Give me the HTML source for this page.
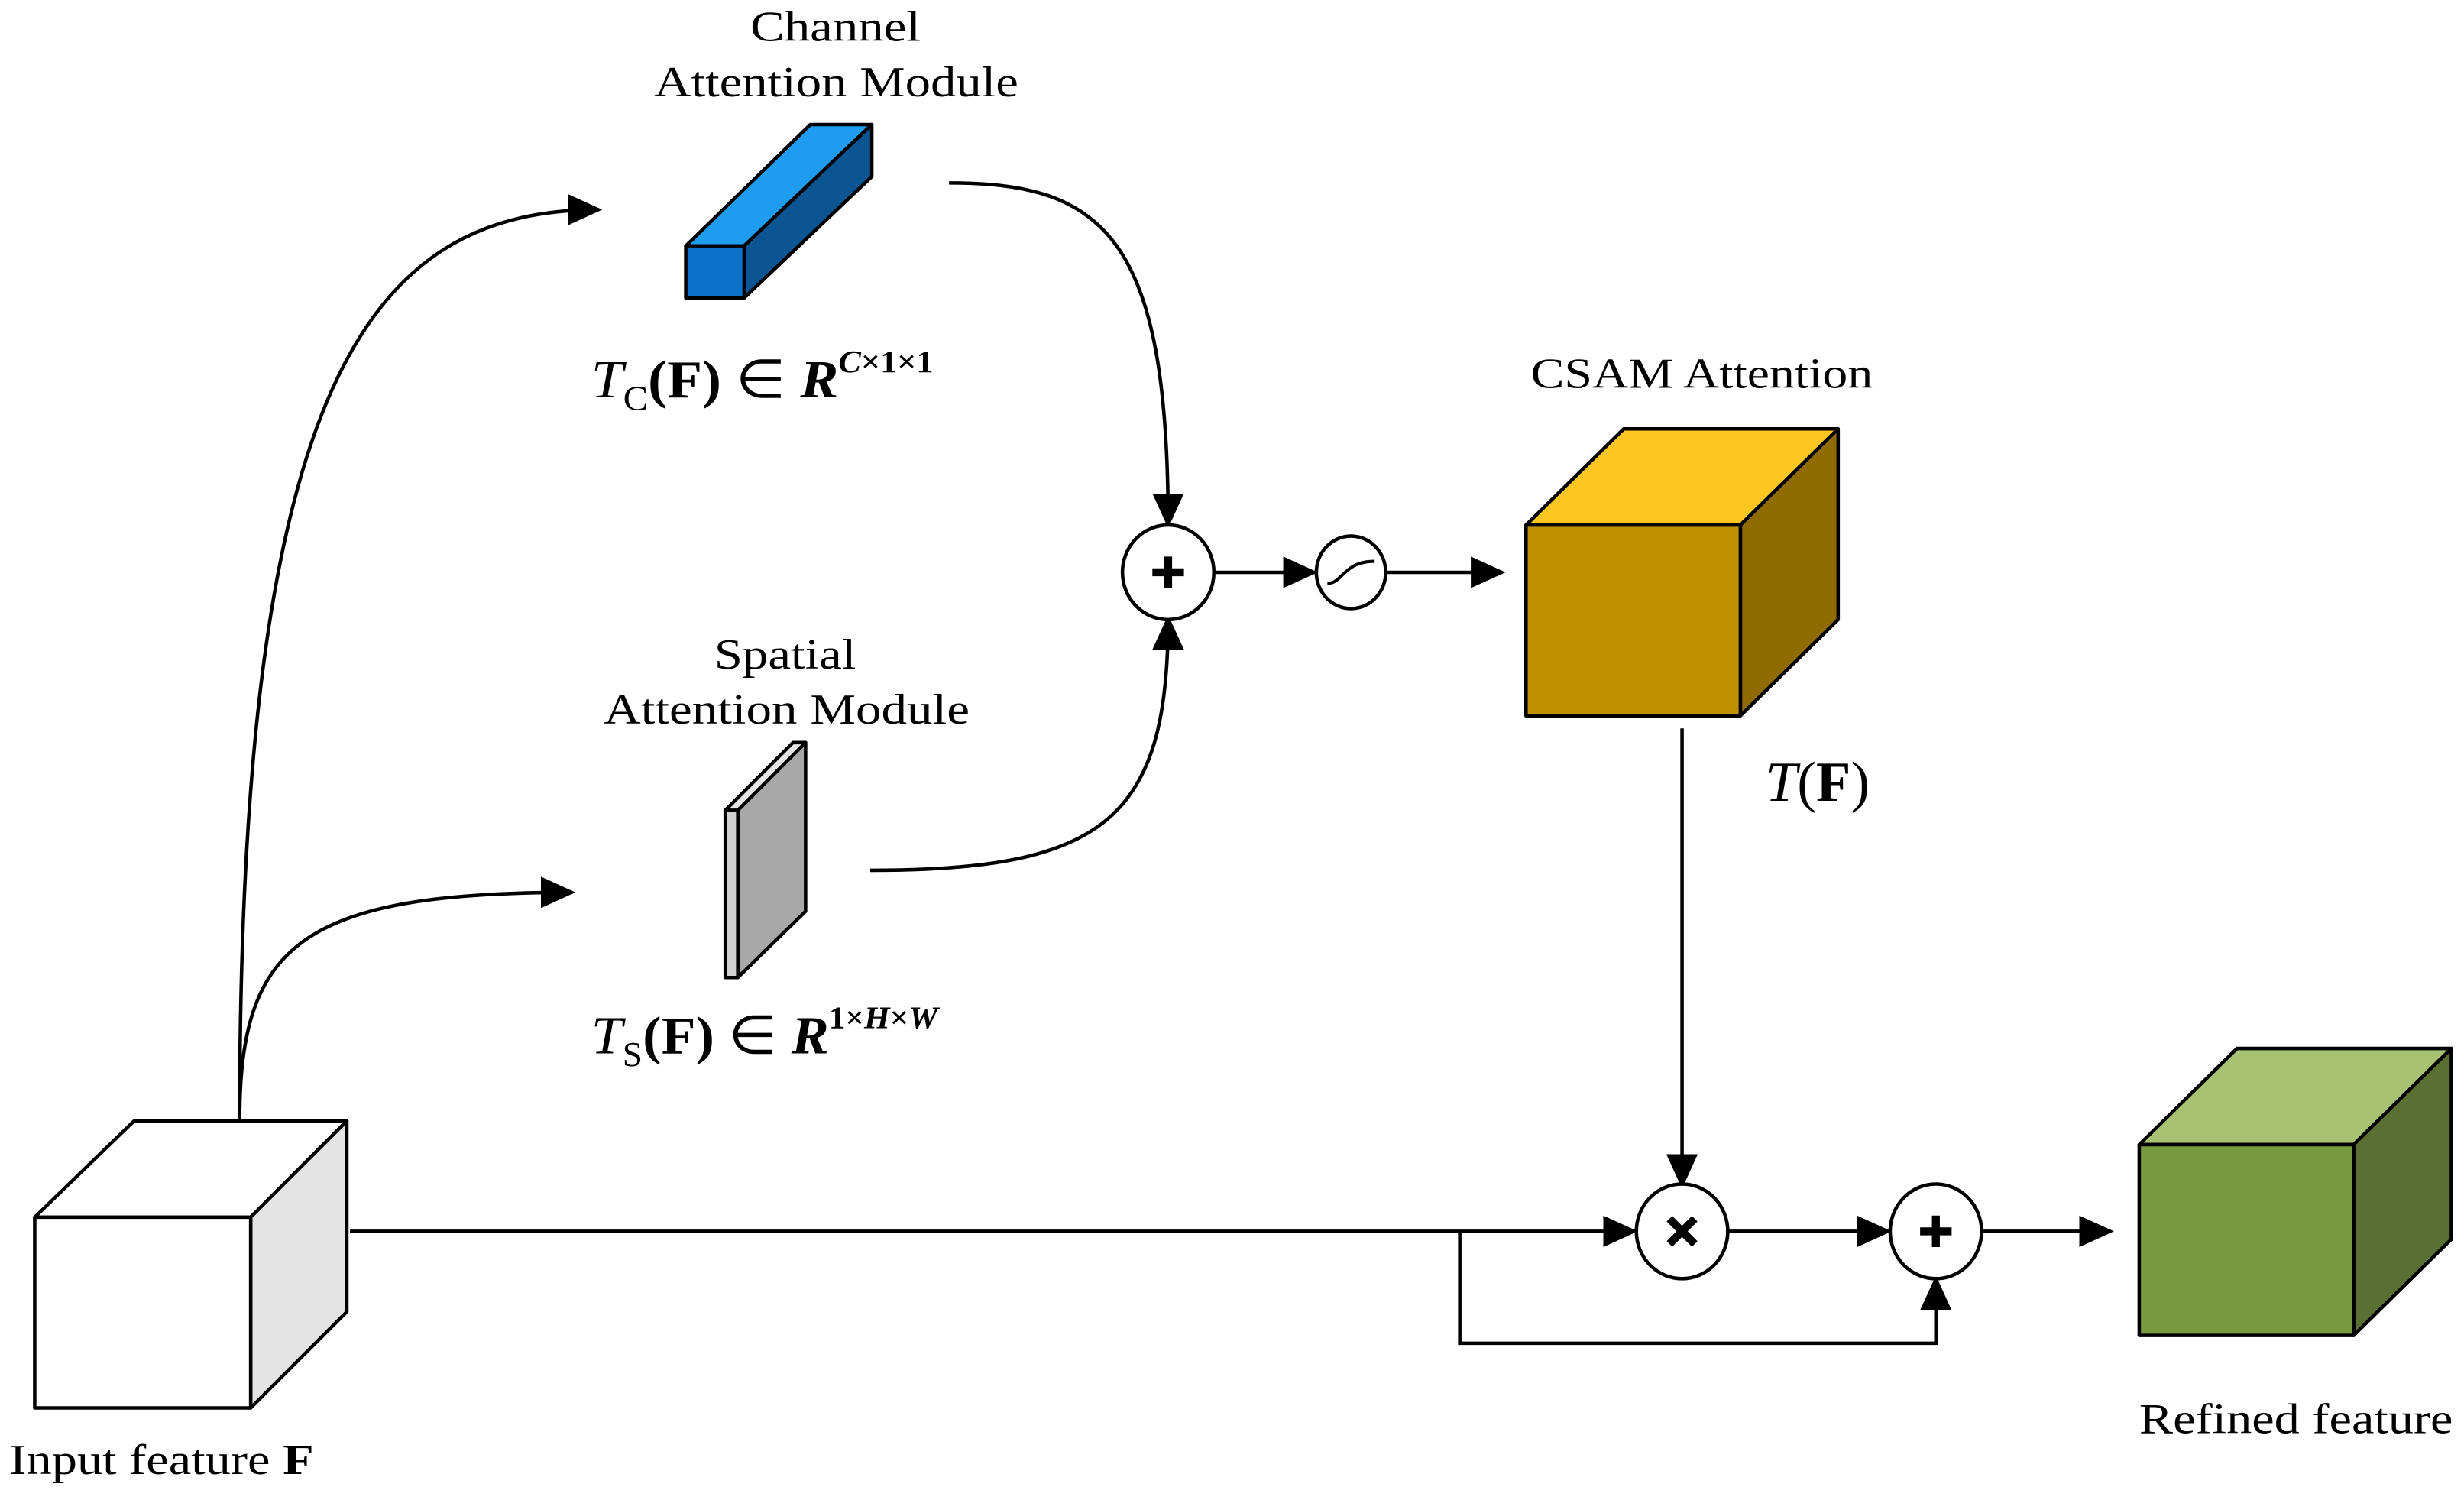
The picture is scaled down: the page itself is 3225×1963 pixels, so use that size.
<!DOCTYPE html>
<html><head><meta charset="utf-8"><style>html,body{margin:0;padding:0;background:#fff}svg{display:block}</style></head>
<body>
<svg width="3225" height="1963" viewBox="0 0 1563 951.4" xmlns="http://www.w3.org/2000/svg" font-family="'Liberation Serif', serif">
<defs><marker id="b" markerWidth="22" markerHeight="20" refX="20" refY="10" orient="auto" markerUnits="userSpaceOnUse" viewBox="0 0 22 20"><path d="M0,0 L22,10 L0,20 z" fill="#000"/></marker></defs>
<g fill="none" stroke="#000" stroke-width="2.2">
<path d="M152,711 C152,250 230,133 380,133" marker-end="url(#b)"/>
<path d="M152,711 C152,600 190,566 363,566" marker-end="url(#b)"/>
<path d="M602,116 C700,116 741,150 741,333" marker-end="url(#b)"/>
<path d="M552,552 C700,552 741,520 741,392" marker-end="url(#b)"/>
<path d="M771,363 L834,363" marker-end="url(#b)"/>
<path d="M879,363 L953,363" marker-end="url(#b)"/>
<path d="M1067,462 L1067,752" marker-end="url(#b)"/>
<path d="M222,781 L1037,781" marker-end="url(#b)"/>
<path d="M926,781 L926,852 L1228,852 L1228,811" marker-end="url(#b)"/>
<path d="M1097,781 L1198,781" marker-end="url(#b)"/>
<path d="M1258,781 L1339,781" marker-end="url(#b)"/>
</g>
<g stroke="#000" stroke-width="2.2" stroke-linejoin="round">
<polygon points="435,156 514,79 553,79 472,156" fill="#1e9cf0"/>
<polygon points="472,156 553,79 553,112 472,189" fill="#0a5592"/>
<rect x="435" y="156" width="37" height="33" fill="#0a72c8"/>
<polygon points="460,514 503,471 511,471 468,514" fill="#e6e6e6"/>
<polygon points="468,514 511,471 511,578 468,620" fill="#a8a8a8"/>
<rect x="460" y="514" width="8" height="106" fill="#d0d0d0"/>
<polygon points="968,333 1030,272 1166,272 1104,333" fill="#fdc621"/>
<polygon points="1104,333 1166,272 1166,393 1104,454" fill="#8f6b00"/>
<rect x="968" y="333" width="136" height="121" fill="#c09000"/>
<polygon points="22,772 85,711 220,711 159,772" fill="#fff"/>
<polygon points="159,772 220,711 220,832 159,893" fill="#e4e4e4"/>
<rect x="22" y="772" width="137" height="121" fill="#fff"/>
<polygon points="1357,726 1419,665 1555,665 1493,726" fill="#a8c172"/>
<polygon points="1493,726 1555,665 1555,786 1493,847" fill="#5a7032"/>
<rect x="1357" y="726" width="136" height="121" fill="#7a9a40"/>
<ellipse cx="741" cy="363" rx="29" ry="30" fill="#fff"/>
<ellipse cx="857" cy="363" rx="22" ry="23" fill="#fff"/>
<ellipse cx="1067" cy="781" rx="29" ry="30" fill="#fff"/>
<ellipse cx="1228" cy="781" rx="29" ry="30" fill="#fff"/>
</g>
<g stroke="#000" stroke-width="5" fill="none">
<path d="M741,353 V373 M731,363 H751"/>
<path d="M1228,771 V791 M1218,781 H1238"/>
<path d="M1059,773 L1075,789 M1075,773 L1059,789"/>
</g>
<path d="M842,370 C852,370 852,356 872,356" stroke="#000" stroke-width="2" fill="none"/>
<g font-size="27" fill="#000" lengthAdjust="spacingAndGlyphs">
<text x="476" y="26" textLength="108" lengthAdjust="spacingAndGlyphs">Channel</text>
<text x="415" y="61" textLength="231" lengthAdjust="spacingAndGlyphs">Attention Module</text>
<text x="453" y="424" textLength="90" lengthAdjust="spacingAndGlyphs">Spatial</text>
<text x="383" y="459" textLength="232" lengthAdjust="spacingAndGlyphs">Attention Module</text>
<text x="971" y="246" textLength="217" lengthAdjust="spacingAndGlyphs">CSAM Attention</text>
<text x="1357" y="909" textLength="199" lengthAdjust="spacingAndGlyphs">Refined feature</text>
<text x="6" y="935" textLength="193" lengthAdjust="spacingAndGlyphs">Input feature <tspan font-weight="bold">F</tspan></text>
</g>
<text x="375" y="252" font-size="34" textLength="217" lengthAdjust="spacingAndGlyphs"><tspan font-style="italic">T</tspan><tspan font-size="22" dy="8">C</tspan><tspan dy="-8" font-weight="bold">(F)</tspan> ∈ <tspan font-weight="bold" font-style="italic">R</tspan><tspan font-size="20" dy="-16" font-weight="bold"><tspan font-style="italic">C</tspan>×1×1</tspan></text>
<text x="375" y="668" font-size="34" textLength="220" lengthAdjust="spacingAndGlyphs"><tspan font-style="italic">T</tspan><tspan font-size="22" dy="8">S</tspan><tspan dy="-8" font-weight="bold">(F)</tspan> ∈ <tspan font-weight="bold" font-style="italic">R</tspan><tspan font-size="20" dy="-16" font-weight="bold">1×<tspan font-style="italic">H</tspan>×<tspan font-style="italic">W</tspan></tspan></text>
<text x="1120" y="508" font-size="36"><tspan font-style="italic">T</tspan>(<tspan font-weight="bold">F</tspan>)</text>
</svg>
</body></html>
